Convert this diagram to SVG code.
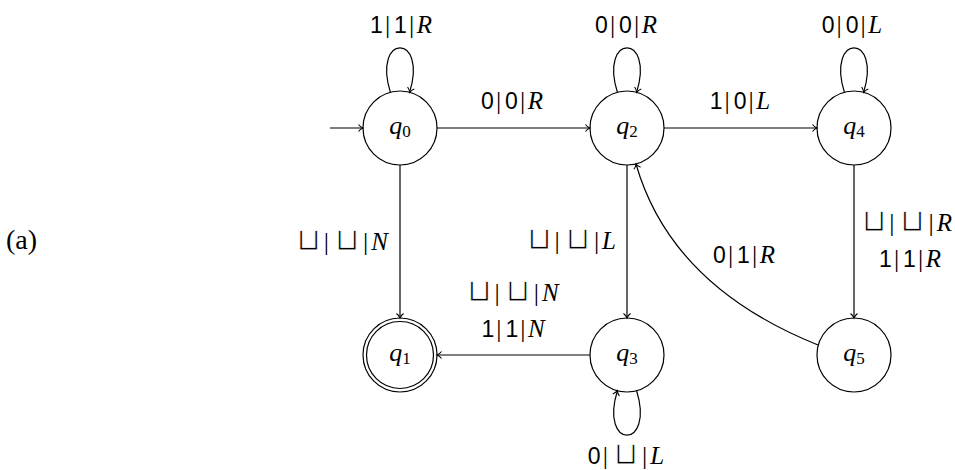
<svg xmlns="http://www.w3.org/2000/svg" width="955" height="470" viewBox="0 0 955 470">
<style>
.st{fill:none;stroke:#000;stroke-width:1.2}
.e{fill:none;stroke:#000;stroke-width:1.2;marker-end:url(#arr)}
.n{font-family:"Liberation Serif","DejaVu Serif",serif;font-size:26px;font-style:italic;text-anchor:middle}
.sub{font-style:normal;font-size:17px}
.l{font-family:"Liberation Serif","DejaVu Serif",serif;font-size:23px}
.d{font-family:"Liberation Sans","DejaVu Sans",sans-serif;font-size:23px}
.b{font-size:26px}
.i{font-style:italic;font-size:25px}
.c{font-family:"DejaVu Sans",sans-serif;font-size:31px;stroke:#fff;stroke-width:0.9}
.m{text-anchor:middle}
.r{text-anchor:end}
</style>
<defs>
<marker id="arr" viewBox="-6 -5 7 10" refX="0" refY="0" markerWidth="7" markerHeight="10" markerUnits="userSpaceOnUse" orient="auto" overflow="visible">
<path d="M-4.5,-3.5 C-3,-1.5 -1,-0.4 0,0 C-1,0.4 -3,1.5 -4.5,3.5" fill="none" stroke="#000" stroke-width="1.1"/>
</marker>
</defs>
<rect width="955" height="470" fill="#fff"/>
<text class="l" x="6" y="249" style="font-size:28px">(a)</text>
<g id="connectors">
<line class="e" x1="330" y1="128" x2="363" y2="128"/>
<path class="e" d="M390.4,92.3 C372,33 428,33 409.6,92.3"/>
<path class="e" d="M617.4,92.3 C599,33 655,33 636.6,92.3"/>
<path class="e" d="M844.4,92.3 C826,33 882,33 863.6,92.3"/>
<line class="e" x1="437" y1="128" x2="590" y2="128"/>
<line class="e" x1="664" y1="128" x2="817" y2="128"/>
<line class="e" x1="400" y1="165" x2="400" y2="318"/>
<line class="e" x1="627" y1="165" x2="627" y2="318"/>
<line class="e" x1="854" y1="165" x2="854" y2="318"/>
<line class="e" x1="590" y1="355" x2="437" y2="355"/>
<path class="e" d="M818,345 Q671,286 636,164"/>
<path class="e" d="M636.6,390.7 C655,450 599,450 617.4,390.7"/>
</g>
<g id="labels">
<text class="l m" x="401" y="33"><tspan class="d">1</tspan><tspan class="b" dx="2">|</tspan><tspan class="d" dx="4">1</tspan><tspan class="b" dx="2">|</tspan><tspan class="i" dx="2.5">R</tspan></text>
<text class="l m" x="626" y="33"><tspan class="d">0</tspan><tspan class="b" dx="2">|</tspan><tspan class="d" dx="4">0</tspan><tspan class="b" dx="2">|</tspan><tspan class="i" dx="2.5">R</tspan></text>
<text class="l m" x="852" y="33"><tspan class="d">0</tspan><tspan class="b" dx="2">|</tspan><tspan class="d" dx="4">0</tspan><tspan class="b" dx="2">|</tspan><tspan class="i" dx="2.5">L</tspan></text>
<text class="l m" x="512" y="109"><tspan class="d">0</tspan><tspan class="b" dx="2">|</tspan><tspan class="d" dx="4">0</tspan><tspan class="b" dx="2">|</tspan><tspan class="i" dx="2.5">R</tspan></text>
<text class="l m" x="740" y="109"><tspan class="d">1</tspan><tspan class="b" dx="2">|</tspan><tspan class="d" dx="4">0</tspan><tspan class="b" dx="2">|</tspan><tspan class="i" dx="2.5">L</tspan></text>
<text class="l r" x="388" y="250"><tspan class="c">⊔</tspan><tspan class="b" dx="3">|</tspan><tspan class="c" dx="6">⊔</tspan><tspan class="b" dx="4">|</tspan><tspan class="i" dx="3">N</tspan></text>
<text class="l r" x="616" y="249"><tspan class="c">⊔</tspan><tspan class="b" dx="3">|</tspan><tspan class="c" dx="6">⊔</tspan><tspan class="b" dx="4">|</tspan><tspan class="i" dx="3">L</tspan></text>
<text class="l m" x="907" y="231"><tspan class="c">⊔</tspan><tspan class="b" dx="3">|</tspan><tspan class="c" dx="6">⊔</tspan><tspan class="b" dx="4">|</tspan><tspan class="i" dx="3">R</tspan></text>
<text class="l m" x="910" y="267"><tspan class="d">1</tspan><tspan class="b" dx="2">|</tspan><tspan class="d" dx="4">1</tspan><tspan class="b" dx="2">|</tspan><tspan class="i" dx="2.5">R</tspan></text>
<text class="l m" x="513" y="301"><tspan class="c">⊔</tspan><tspan class="b" dx="3">|</tspan><tspan class="c" dx="6">⊔</tspan><tspan class="b" dx="4">|</tspan><tspan class="i" dx="3">N</tspan></text>
<text class="l m" x="513" y="337"><tspan class="d">1</tspan><tspan class="b" dx="2">|</tspan><tspan class="d" dx="4">1</tspan><tspan class="b" dx="2">|</tspan><tspan class="i" dx="2.5">N</tspan></text>
<text class="l m" x="744" y="263"><tspan class="d">0</tspan><tspan class="b" dx="2">|</tspan><tspan class="d" dx="4">1</tspan><tspan class="b" dx="2">|</tspan><tspan class="i" dx="2.5">R</tspan></text>
<text class="l m" x="626" y="464"><tspan class="d">0</tspan><tspan class="b" dx="2">|</tspan><tspan class="c" dx="6">⊔</tspan><tspan class="b" dx="4">|</tspan><tspan class="i" dx="3">L</tspan></text>
</g>
<g id="q0"><circle class="st" cx="400" cy="128" r="37"/><text class="n" x="400" y="134">q<tspan class="sub" dy="3">0</tspan></text></g>
<g id="q2"><circle class="st" cx="627" cy="128" r="37"/><text class="n" x="627" y="134">q<tspan class="sub" dy="3">2</tspan></text></g>
<g id="q4"><circle class="st" cx="854" cy="128" r="37"/><text class="n" x="854" y="134">q<tspan class="sub" dy="3">4</tspan></text></g>
<g id="q1"><circle class="st" cx="400" cy="355" r="37"/><circle class="st" cx="400" cy="355" r="33.5"/><text class="n" x="400" y="361">q<tspan class="sub" dy="3">1</tspan></text></g>
<g id="q3"><circle class="st" cx="627" cy="355" r="37"/><text class="n" x="627" y="361">q<tspan class="sub" dy="3">3</tspan></text></g>
<g id="q5"><circle class="st" cx="854" cy="355" r="37"/><text class="n" x="854" y="361">q<tspan class="sub" dy="3">5</tspan></text></g>
</svg>
